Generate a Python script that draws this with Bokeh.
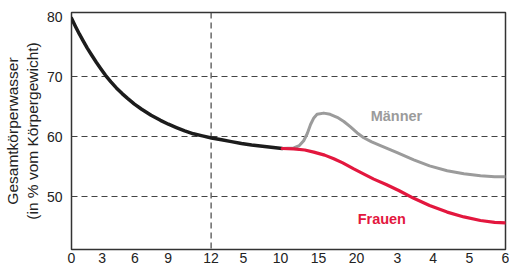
from bokeh.plotting import figure
from bokeh.models import FixedTicker, Span, Range1d
from bokeh.core.properties import value
from bokeh.embed import file_html
from bokeh.resources import INLINE

# x axis: piecewise age axis (months 0-12, years 5-20, decades 3-6); positions of ticks on axis
TICK_POS = [0, 0.85, 1.75, 2.67, 3.86, 4.755, 5.78, 6.83, 7.88, 9.01, 10.0, 11.0, 12.0]
TICK_LABELS = ["0", "3", "6", "9", "12", "5", "10", "15", "20", "3", "4", "5", "6"]
DIVIDER_POS = [3.86]
GRID_VALUES = [50, 60, 70]
Y_TICKS = [50, 60, 70, 80]

# shared curve (infants / children)
common_x = [0.0, 0.11, 0.22, 0.33, 0.44, 0.56, 0.69, 0.81, 0.94, 1.09, 1.24, 1.4, 1.55, 1.74, 1.94, 2.2, 2.46, 2.68, 2.9, 3.13, 3.37, 3.62, 3.87, 4.15, 4.42, 4.7, 4.98, 5.4, 5.825]
common_y = [79.7, 78.35, 77.05, 75.85, 74.7, 73.55, 72.35, 71.3, 70.2, 69.1, 68.1, 67.15, 66.35, 65.4, 64.55, 63.55, 62.7, 62.05, 61.5, 60.95, 60.45, 60.1, 59.75, 59.45, 59.15, 58.85, 58.6, 58.3, 58.0]

# men
men_x = [5.825, 6.146, 6.3, 6.42, 6.52, 6.61, 6.7, 6.79, 6.976, 7.15, 7.346, 7.53, 7.714, 7.9, 8.081, 8.3, 8.543, 9.005, 9.464, 9.9, 10.387, 10.85, 11.308, 11.7, 12.0]
men_y = [58.0, 58.1, 58.5, 59.3, 60.5, 62.0, 63.1, 63.7, 63.9, 63.7, 63.2, 62.5, 61.6, 60.6, 59.8, 59.1, 58.5, 57.3, 56.1, 55.1, 54.3, 53.8, 53.45, 53.3, 53.3]

# women
women_x = [5.825, 6.146, 6.45, 6.699, 7.0, 7.252, 7.5, 7.805, 8.1, 8.358, 8.7, 9.049, 9.464, 9.9, 10.387, 10.85, 11.308, 11.7, 12.0]
women_y = [58.0, 57.95, 57.75, 57.4, 56.9, 56.3, 55.6, 54.6, 53.7, 52.9, 52.0, 51.0, 49.7, 48.5, 47.4, 46.6, 46.0, 45.7, 45.6]

LABEL_TEXT = ["Männer", "Frauen"]
LABEL_X = [8.985, 8.58]
LABEL_Y = [63.5, 46.33]
LABEL_COLORS = ["#9b9b9b", "#e3173e"]

Y_TITLE = "Gesamtkörperwasser\n(in % vom Körpergewicht)"

FONT = "Liberation Sans"

p = figure(width=509, height=269, output_backend="svg", toolbar_location=None,
           x_range=Range1d(0, 12), y_range=Range1d(41.17, 80.67),
           min_border_left=71, min_border_right=4, min_border_top=12, min_border_bottom=20)

p.background_fill_color = "white"
p.border_fill_color = "white"
p.outline_line_color = "#333333"
p.outline_line_width = 1.5
p.xgrid.visible = False
p.ygrid.visible = False

for ax in (p.xaxis, p.yaxis):
    ax.axis_line_color = None
    ax.major_tick_line_color = None
    ax.minor_tick_line_color = None
    ax.major_tick_out = 0
    ax.major_tick_in = 0
    ax.minor_tick_out = 0
    ax.minor_tick_in = 0
    ax.major_label_text_font = FONT
    ax.major_label_text_font_size = "14px"
    ax.major_label_text_color = "#222222"

p.xaxis.ticker = FixedTicker(ticks=TICK_POS)
p.xaxis.major_label_overrides = {t: l for t, l in zip(TICK_POS, TICK_LABELS)}
p.xaxis.major_label_standoff = 3
p.yaxis.ticker = FixedTicker(ticks=Y_TICKS)
p.yaxis.major_label_standoff = 9

p.yaxis.axis_label = Y_TITLE
p.yaxis.axis_label_text_font = FONT
p.yaxis.axis_label_text_font_size = "15.5px"
p.yaxis.axis_label_text_font_style = "normal"
p.yaxis.axis_label_text_color = "#222222"
p.yaxis.axis_label_standoff = 3

for g in GRID_VALUES:
    p.add_layout(Span(location=g, dimension="width", line_color="#444444",
                      line_width=1.2, line_dash="6 4", level="underlay"))
for d in DIVIDER_POS:
    p.add_layout(Span(location=d, dimension="height", line_color="#444444",
                      line_width=1.2, line_dash="6 4", level="underlay"))

p.line(men_x, men_y, line_color="#9b9b9b", line_width=3, line_join="round", line_cap="round")
p.line(common_x, common_y, line_color="#1c1c1c", line_width=3.5, line_join="round", line_cap="round")
p.line(women_x, women_y, line_color="#e3173e", line_width=3.2, line_join="round", line_cap="round")

p.text(x=LABEL_X, y=LABEL_Y, text=LABEL_TEXT, text_color=LABEL_COLORS,
       text_font=value(FONT), text_font_size="14.5px", text_font_style="bold",
       text_align="center", text_baseline="middle")

open("out.html", "w").write(file_html(p, INLINE))
